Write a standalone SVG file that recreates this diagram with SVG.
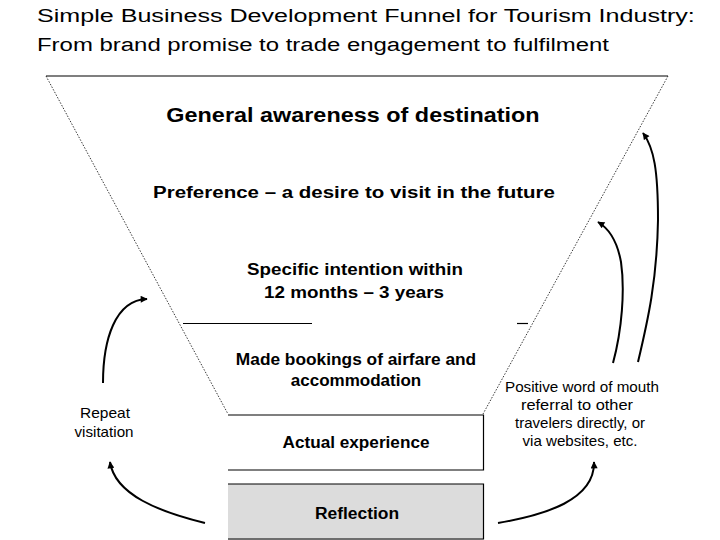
<svg xmlns="http://www.w3.org/2000/svg" width="720" height="540" viewBox="0 0 720 540">
<style>
  text { font-family: "Liberation Sans", Arial, sans-serif; fill: #000; }
  .title { font-size: 19px; }
  .b { font-weight: bold; text-anchor: middle; }
  .n { text-anchor: middle; font-size: 14.5px; }
  .edge { stroke: #222; stroke-width: 0.9; stroke-dasharray: 1.5 1.5; fill: none; }
  .line { stroke: #000; stroke-width: 1.2; fill: none; }
  .arrow { stroke: #000; stroke-width: 2; fill: none; marker-end: url(#ah); }
</style>
<defs>
  <marker id="ah" viewBox="0 0 10 10" refX="9" refY="5" markerWidth="4" markerHeight="3.5" orient="auto" markerUnits="strokeWidth">
    <path d="M0,0 L10,5 L0,10 Z" fill="#000"/>
  </marker>
</defs>
<rect width="720" height="540" fill="#fff"/>
<g id="title">
  <g transform="translate(37,0) scale(1.3,1)">
    <text class="title" x="0" y="22" textLength="506" lengthAdjust="spacingAndGlyphs">Simple Business Development Funnel for Tourism Industry:</text>
    <text class="title" x="0" y="51" textLength="440" lengthAdjust="spacingAndGlyphs">From brand promise to trade engagement to fulfilment</text>
  </g>
</g>
<g id="funnel">
  <line class="line" x1="46" y1="76" x2="668" y2="76"/>
  <line class="edge" x1="46" y1="76" x2="228" y2="414"/>
  <line class="edge" x1="668" y1="76" x2="483" y2="414"/>
  <line class="line" x1="183" y1="323.5" x2="312" y2="323.5"/>
  <line class="line" x1="517" y1="323.5" x2="528" y2="323.5"/>
</g>
<g id="awareness" transform="translate(353,0) scale(1.22,1)">
  <text class="b" x="0" y="122" font-size="19.5" textLength="306" lengthAdjust="spacingAndGlyphs">General awareness of destination</text>
</g>
<g id="preference" transform="translate(354,0) scale(1.22,1)">
  <text class="b" x="0" y="198" font-size="17" textLength="329.5" lengthAdjust="spacingAndGlyphs">Preference – a desire to visit in the future</text>
</g>
<g id="intention" transform="translate(355,0) scale(1.22,1)">
  <text class="b" x="0" y="275" font-size="16.5" textLength="177" lengthAdjust="spacingAndGlyphs">Specific intention within</text>
  <text class="b" x="-0.8" y="298" font-size="16.5" textLength="147.5" lengthAdjust="spacingAndGlyphs">12 months – 3 years</text>
</g>
<g id="bookings" transform="translate(356,0) scale(1.22,1)">
  <text class="b" x="0" y="365" font-size="16" textLength="197" lengthAdjust="spacingAndGlyphs">Made bookings of airfare and</text>
  <text class="b" x="0" y="386" font-size="16" textLength="107" lengthAdjust="spacingAndGlyphs">accommodation</text>
</g>
<g id="experience">
  <path class="line" d="M228,415 H483.5 V470 H228"/>
  <g transform="translate(356,0) scale(1.22,1)">
    <text class="b" x="0" y="448" font-size="17" textLength="120.5" lengthAdjust="spacingAndGlyphs">Actual experience</text>
  </g>
</g>
<g id="reflection">
  <rect x="228" y="484" width="255.5" height="56" fill="#dcdcdc"/>
  <path class="line" d="M228,484 H483.5 V539 H228"/>
  <g transform="translate(357,0) scale(1.22,1)">
    <text class="b" x="0" y="519" font-size="17" textLength="69" lengthAdjust="spacingAndGlyphs">Reflection</text>
  </g>
</g>
<g id="repeat">
  <text class="n" x="105" y="418" textLength="50" lengthAdjust="spacingAndGlyphs">Repeat</text>
  <text class="n" x="104" y="437" textLength="59" lengthAdjust="spacingAndGlyphs">visitation</text>
</g>
<g id="word-of-mouth">
  <text class="n" x="582" y="392" textLength="154" lengthAdjust="spacingAndGlyphs">Positive word of mouth</text>
  <text class="n" x="577" y="410" textLength="112" lengthAdjust="spacingAndGlyphs">referral to other</text>
  <text class="n" x="580" y="428" textLength="130" lengthAdjust="spacingAndGlyphs">travelers directly, or</text>
  <text class="n" x="580" y="446" textLength="115" lengthAdjust="spacingAndGlyphs">via websites, etc.</text>
</g>
<g id="connectors">
  <path class="arrow" d="M103,383 C103,340 115,300 147,299"/>
  <path class="arrow" d="M205,523 C160,512 115,495 110,462"/>
  <path class="arrow" d="M498,523 C545,515 595,500 594,462"/>
  <path class="arrow" d="M613,363 C622,330 625,290 621,262 C617,240 608,228 598,222"/>
  <path class="arrow" d="M638,362 C648,320 657,280 658,220 C658,170 654,148 643,133"/>
</g>
</svg>
